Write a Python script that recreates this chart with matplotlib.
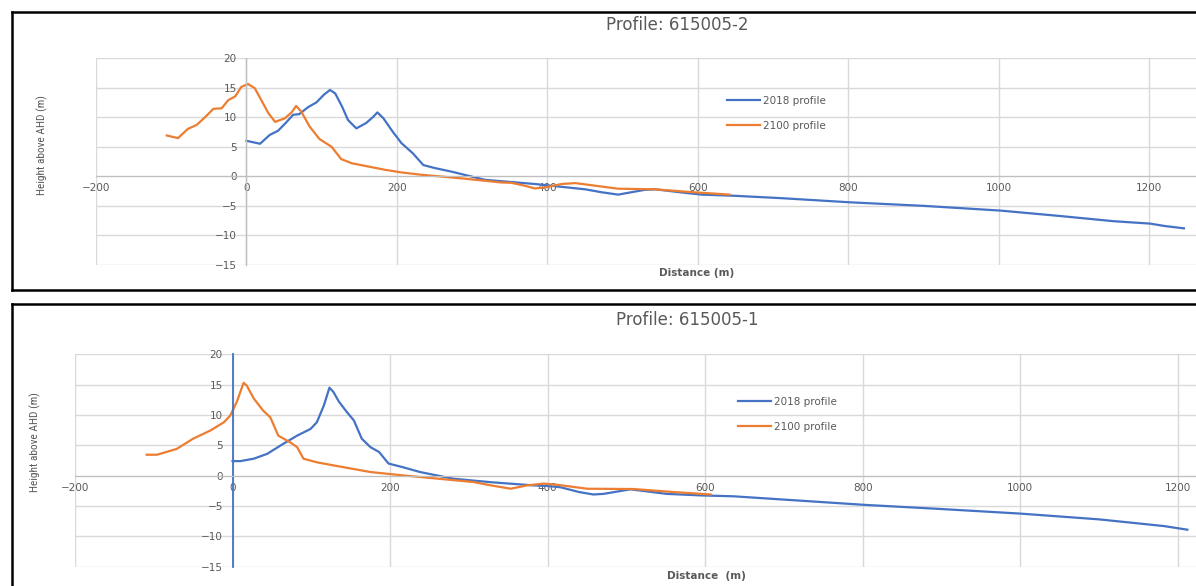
import numpy as np
import matplotlib

matplotlib.use("Agg")
import matplotlib.pyplot as plt
from matplotlib.lines import Line2D

# Profile 615005-2 (top)
top_2018_x = [0, 18, 31, 42, 52, 62, 70, 82, 93, 103, 111, 118, 127, 135, 146, 159, 168, 174, 182, 194,
              206, 221, 235, 250, 272, 317, 383, 420, 450, 472, 494, 507, 529, 543, 583, 605, 649, 711,
              802, 900, 1002, 1080, 1153, 1201, 1220, 1246]
top_2018_y = [6.0, 5.5, 7.0, 7.7, 9.0, 10.4, 10.5, 11.7, 12.5, 13.8, 14.6, 14.0, 11.8, 9.5, 8.1, 9.0, 10.0,
              10.8, 9.8, 7.6, 5.6, 3.9, 1.9, 1.4, 0.8, -0.6, -1.3, -1.8, -2.2, -2.7, -3.1, -2.8, -2.3, -2.2,
              -2.8, -3.1, -3.3, -3.7, -4.4, -5.0, -5.8, -6.7, -7.6, -8.0, -8.4, -8.8]
top_2100_x = [-106, -91, -78, -66, -55, -44, -33, -24, -15, -7, 2, 11, 20, 29, 38, 51, 60, 66, 73, 84, 97,
              113, 126, 140, 162, 184, 206, 233, 290, 339, 352, 370, 383, 396, 419, 437, 470, 494, 543,
              583, 642]
top_2100_y = [6.9, 6.45, 8.0, 8.7, 10.0, 11.4, 11.5, 12.9, 13.5, 15.1, 15.6, 14.9, 12.8, 10.7, 9.2, 9.8,
              10.8, 11.9, 10.9, 8.4, 6.3, 5.0, 2.9, 2.2, 1.65, 1.1, 0.65, 0.25, -0.4, -1.05, -1.1, -1.6,
              -2.05, -1.9, -1.3, -1.15, -1.7, -2.1, -2.2, -2.6, -3.1]

# Profile 615005-1 (bottom)
bot_2018_x = [0, 10, 27, 44, 65, 82, 99, 107, 116, 123, 128, 135, 145, 154, 164, 175, 186, 198, 216, 238,
              280, 330, 382, 399, 416, 440, 458, 471, 505, 551, 594, 636, 695, 801, 900, 1000, 1100,
              1182, 1212]
bot_2018_y = [2.4, 2.4, 2.8, 3.6, 5.3, 6.6, 7.7, 8.8, 11.6, 14.5, 13.8, 12.2, 10.5, 9.1, 6.1, 4.7, 3.9,
              2.0, 1.4, 0.6, -0.5, -1.1, -1.6, -1.7, -1.9, -2.7, -3.1, -3.0, -2.25, -3.0, -3.25, -3.4,
              -3.9, -4.8, -5.5, -6.25, -7.2, -8.3, -8.9]
bot_2100_x = [-109, -96, -71, -50, -28, -11, -3, 5.5, 14, 18, 27, 39, 48, 58, 73, 82, 90, 107, 128, 175,
              216, 306, 328, 353, 374, 395, 412, 450, 509, 560, 607]
bot_2100_y = [3.45, 3.45, 4.4, 6.1, 7.45, 8.8, 9.9, 12.2, 15.3, 14.85, 12.7, 10.7, 9.6, 6.6, 5.5, 4.7,
              2.8, 2.2, 1.7, 0.6, 0.05, -1.05, -1.6, -2.15, -1.6, -1.3, -1.5, -2.15, -2.2, -2.7, -3.1]

x_ticks = [-200, 0, 200, 400, 600, 800, 1000, 1200]
y_ticks = [-15, -10, -5, 0, 5, 10, 15, 20]
series_labels = ["2018 profile", "2100 profile"]

BLUE = "#4472C4"
ORANGE = "#ED7D31"
GRID = "#D9D9D9"
TXT = "#595959"

W, H = 1196, 586


def fx(px):
    return px / W


def fy(py):
    return 1 - py / H


fig = plt.figure(figsize=(W / 100, H / 100), dpi=100)


def panel(box, xmax, title, title_xy, xlabel, xlabel_xy, ylabel_xy, leg_xy, data, vaxis_color):
    left, right, top, bottom = box
    ax = fig.add_axes([fx(left), fy(bottom), (right - left) / W, (bottom - top) / H])
    ax.set_xlim(-200, xmax)
    ax.set_ylim(-15, 20)
    ax.set_xticks(x_ticks)
    ax.set_yticks(y_ticks)
    ax.grid(True, color=GRID, linewidth=1.0)
    ax.set_axisbelow(True)
    for s in ["top", "right"]:
        ax.spines[s].set_visible(False)
    ax.spines["bottom"].set_position(("data", 0))
    ax.spines["left"].set_position(("data", 0))
    ax.spines["bottom"].set_color("#BFBFBF")
    ax.spines["left"].set_color(vaxis_color)
    ax.spines["left"].set_linewidth(1.3 if vaxis_color != "#BFBFBF" else 1.0)
    ax.tick_params(axis="both", length=0, labelsize=7.5, labelcolor=TXT)
    ax.tick_params(axis="x", pad=5)
    ax.tick_params(axis="y", pad=7)
    (x18, y18), (x21, y21) = data
    ax.plot(x18, y18, color=BLUE, linewidth=1.6, label=series_labels[0])
    ax.plot(x21, y21, color=ORANGE, linewidth=1.6, label=series_labels[1])
    ax.legend(loc="upper left", bbox_to_anchor=(fx(leg_xy[0]), fy(leg_xy[1])),
              bbox_transform=fig.transFigure, frameon=False, fontsize=7.5, labelcolor=TXT,
              handlelength=3.2, handletextpad=0.3, labelspacing=1.4, borderpad=0, borderaxespad=0)
    fig.text(fx(title_xy[0]), fy(title_xy[1]), title, ha="center", va="center", fontsize=12, color=TXT)
    fig.text(fx(xlabel_xy[0]), fy(xlabel_xy[1]), xlabel, ha="center", va="center", fontsize=7.5,
             color=TXT, fontweight="bold")
    fig.text(fx(ylabel_xy[0]), fy(ylabel_xy[1]), "Height above AHD (m)", ha="center", va="center",
             rotation=90, fontsize=8.2, color=TXT, fontstretch="condensed",
             family=["Liberation Sans Narrow", "DejaVu Sans Condensed", "Roboto Condensed", "Liberation Sans"])
    return ax


panel((96, 1196, 58, 265), 1262, "Profile: 615005-2", (677, 25), "Distance (m)", (697, 273), (42, 145),
      (727, 96), [(top_2018_x, top_2018_y), (top_2100_x, top_2100_y)], "#BFBFBF")
panel((75, 1196, 354.3, 566.7), 1223, "Profile: 615005-1", (687, 320), "Distance  (m)", (706, 576),
      (35, 442), (738, 397), [(bot_2018_x, bot_2018_y), (bot_2100_x, bot_2100_y)], BLUE)

# panel frames
frame = dict(color="black", linewidth=1.8, transform=fig.transFigure)
fig.add_artist(Line2D([fx(12), fx(1196)], [fy(12), fy(12)], **frame))
fig.add_artist(Line2D([fx(12), fx(1196)], [fy(289.5), fy(289.5)], **frame))
fig.add_artist(Line2D([fx(12), fx(12)], [fy(12), fy(289.5)], **frame))
fig.add_artist(Line2D([fx(12), fx(1196)], [fy(304), fy(304)], **frame))
fig.add_artist(Line2D([fx(12), fx(12)], [fy(304), fy(586)], **frame))

fig.savefig("out.png", dpi=100)
